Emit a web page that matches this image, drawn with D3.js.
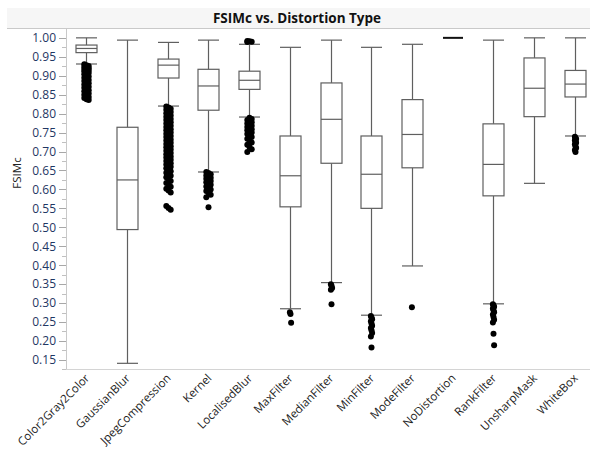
<!DOCTYPE html>
<html>
<head>
<meta charset="utf-8">
<script src="https://cdn.jsdelivr.net/npm/d3@7"></script>
<style>
  body { margin: 0; background: #fff; }
  text { font-family: "Open Sans", "Noto Sans", sans-serif; }
</style>
</head>
<body>
<div id="chart"></div>
<script>
"use strict";

// categories and five-number summaries
var categories = ["Color2Gray2Color", "GaussianBlur", "JpegCompression", "Kernel", "LocalisedBlur",
  "MaxFilter", "MedianFilter", "MinFilter", "ModeFilter", "NoDistortion", "RankFilter", "UnsharpMask", "WhiteBox"];
var whiskerLow  = [0.931, 0.141, 0.820, 0.646, 0.791, 0.285, 0.354, 0.268, 0.398, 1.000, 0.298, 0.616, 0.741];
var q1          = [0.961, 0.494, 0.894, 0.809, 0.864, 0.554, 0.669, 0.550, 0.657, 1.000, 0.583, 0.792, 0.844];
var medians     = [0.972, 0.625, 0.928, 0.873, 0.888, 0.636, 0.785, 0.640, 0.745, 1.000, 0.666, 0.867, 0.878];
var q3          = [0.981, 0.764, 0.944, 0.917, 0.912, 0.741, 0.881, 0.741, 0.837, 1.000, 0.773, 0.947, 0.914];
var whiskerHigh = [1.000, 0.994, 0.988, 0.994, 0.983, 0.975, 0.994, 0.975, 0.983, 1.000, 0.994, 1.000, 1.000];

var outliers = [
  [0.930, 0.928, 0.926, 0.924, 0.922, 0.920, 0.918, 0.916, 0.914, 0.912, 0.910, 0.907, 0.904, 0.901,
   0.898, 0.895, 0.892, 0.889, 0.886, 0.883, 0.880, 0.877, 0.874, 0.871, 0.868, 0.865, 0.862, 0.859,
   0.856, 0.853, 0.850, 0.847, 0.844, 0.841, 0.838, 0.836],
  [],
  [0.819, 0.816, 0.813, 0.810, 0.807, 0.804, 0.801, 0.798, 0.795, 0.792, 0.789, 0.786, 0.783, 0.780,
   0.777, 0.774, 0.771, 0.768, 0.765, 0.762, 0.759, 0.756, 0.753, 0.750, 0.747, 0.744, 0.741, 0.738,
   0.735, 0.732, 0.729, 0.726, 0.723, 0.720, 0.717, 0.714, 0.711, 0.708, 0.705, 0.702, 0.699, 0.696,
   0.693, 0.690, 0.687, 0.684, 0.681, 0.678, 0.675, 0.672, 0.669, 0.666, 0.663, 0.660, 0.656, 0.652,
   0.648, 0.644, 0.640, 0.636, 0.632, 0.627, 0.622, 0.617, 0.612, 0.607, 0.602, 0.597, 0.592, 0.556,
   0.551, 0.546],
  [0.646, 0.643, 0.640, 0.637, 0.634, 0.631, 0.628, 0.625, 0.622, 0.619, 0.616, 0.612, 0.608, 0.604,
   0.600, 0.596, 0.591, 0.586, 0.579, 0.553],
  [0.992, 0.991, 0.990, 0.989, 0.789, 0.786, 0.783, 0.780, 0.777, 0.774, 0.771, 0.768, 0.765, 0.762,
   0.759, 0.756, 0.753, 0.750, 0.746, 0.742, 0.738, 0.734, 0.729, 0.724, 0.718, 0.712, 0.706, 0.699],
  [0.276, 0.271, 0.248],
  [0.350, 0.346, 0.340, 0.335, 0.297],
  [0.266, 0.262, 0.257, 0.252, 0.246, 0.240, 0.234, 0.228, 0.221, 0.212, 0.183],
  [0.289],
  [],
  [0.297, 0.294, 0.290, 0.286, 0.281, 0.276, 0.270, 0.263, 0.256, 0.249, 0.219, 0.189],
  [],
  [0.739, 0.736, 0.733, 0.730, 0.727, 0.723, 0.719, 0.714, 0.709, 0.704, 0.699]
];

var yTicks = d3.range(0.15, 1.0001, 0.05);
var yMinor = d3.range(0.125, 1.0001, 0.025);

var width = 590, height = 455;
var mLeft = 66, mRight = 595, mTop = 28, mBottom = 369;

var svg = d3.select("#chart").append("svg").attr("width", width).attr("height", height);

// title band
svg.append("rect").attr("x", 7).attr("y", 8).attr("width", width - 7).attr("height", mTop - 8)
  .attr("fill", "#f6f6f6");
svg.append("line").attr("x1", 7).attr("x2", width).attr("y1", mTop + 0.5).attr("y2", mTop + 0.5)
  .attr("stroke", "#c9c9c9");
svg.append("text").attr("x", 297).attr("y", 23).attr("text-anchor", "middle")
  .style("font-weight", "bold").style("font-size", "13.5px").attr("fill", "#111")
  .text("FSIMc vs. Distortion Type");

var y = d3.scaleLinear().domain([0.126, 1.026]).range([mBottom, mTop]);
var x = d3.scaleBand().domain(categories).range([mLeft, mRight]).padding(0);
var bw = 20;

// frame
svg.append("line").attr("x1", mLeft + 0.5).attr("x2", mLeft + 0.5).attr("y1", mTop).attr("y2", mBottom)
  .attr("stroke", "#c9c9c9");
svg.append("line").attr("x1", mLeft).attr("x2", width).attr("y1", mBottom + 0.5).attr("y2", mBottom + 0.5)
  .attr("stroke", "#d4d4d4");

// y axis
var yAxis = svg.append("g");
yAxis.selectAll(".minor").data(yMinor).enter().append("line")
  .attr("x1", mLeft - 4).attr("x2", mLeft)
  .attr("y1", function(d){ return Math.round(y(d)) + 0.5; })
  .attr("y2", function(d){ return Math.round(y(d)) + 0.5; })
  .attr("stroke", "#c0c0c0");
yAxis.selectAll(".major").data(yTicks).enter().append("line")
  .attr("x1", mLeft - 7).attr("x2", mLeft)
  .attr("y1", function(d){ return Math.round(y(d)) + 0.5; })
  .attr("y2", function(d){ return Math.round(y(d)) + 0.5; })
  .attr("stroke", "#a8a8a8");
yAxis.selectAll("text").data(yTicks).enter().append("text")
  .attr("x", mLeft - 10).attr("y", function(d){ return y(d); })
  .attr("dy", "0.36em").attr("text-anchor", "end")
  .style("font-size", "12px").attr("fill", "#1f3763")
  .text(function(d){ return d3.format(".2f")(d); });

svg.append("text").attr("transform", "translate(21,173) rotate(-90)")
  .attr("text-anchor", "middle").style("font-size", "11.5px").attr("fill", "#222")
  .text("FSIMc");

// x labels
svg.append("g").selectAll("text").data(categories).enter().append("text")
  .attr("transform", function(d){
    return "translate(" + (x(d) + x.bandwidth() / 2 + 1) + "," + (mBottom + 7) + ") rotate(-45)";
  })
  .attr("text-anchor", "end").attr("dy", "0.35em")
  .style("font-size", "11.5px").attr("fill", "#222")
  .text(function(d){ return d; });

// boxes
var boxes = svg.append("g").selectAll("g").data(categories).enter().append("g")
  .attr("transform", function(d){ return "translate(" + Math.round(x(d) + x.bandwidth() / 2) + ",0)"; });

var stroke = "#5f5f5f";
boxes.each(function(d, i){
  var g = d3.select(this);
  if (q1[i] === q3[i] && whiskerLow[i] === whiskerHigh[i]) {
    g.append("line").attr("x1", -bw / 2).attr("x2", bw / 2)
      .attr("y1", y(medians[i])).attr("y2", y(medians[i]))
      .attr("stroke", "#111").attr("stroke-width", 2);
    return;
  }
  g.append("line").attr("x1", 0.5).attr("x2", 0.5).attr("y1", y(whiskerHigh[i])).attr("y2", y(q3[i]))
    .attr("stroke", stroke).attr("stroke-width", 1.2);
  g.append("line").attr("x1", 0.5).attr("x2", 0.5).attr("y1", y(q1[i])).attr("y2", y(whiskerLow[i]))
    .attr("stroke", stroke).attr("stroke-width", 1.2);
  [whiskerHigh[i], whiskerLow[i]].forEach(function(v){
    g.append("line").attr("x1", -bw / 2).attr("x2", bw / 2 + 1).attr("y1", y(v)).attr("y2", y(v))
      .attr("stroke", stroke).attr("stroke-width", 1.2);
  });
  g.append("rect").attr("x", -bw / 2).attr("y", y(q3[i])).attr("width", bw + 1)
    .attr("height", y(q1[i]) - y(q3[i]))
    .attr("fill", "#fff").attr("stroke", stroke).attr("stroke-width", 1.2);
  g.append("line").attr("x1", -bw / 2).attr("x2", bw / 2 + 1).attr("y1", y(medians[i])).attr("y2", y(medians[i]))
    .attr("stroke", stroke).attr("stroke-width", 1.2);

  // dense groups get a small fixed side-to-side spread, like the reference
  var spread = outliers[i].length > 14 ? 2.2 : 0.6;
  g.selectAll("circle").data(outliers[i]).enter().append("circle")
    .attr("cx", function(v, j){ return 0.5 + ((j % 3) - 1) * spread; })
    .attr("cy", function(v){ return y(v); })
    .attr("r", 3).attr("fill", "#000");
});
</script>
</body>
</html>
